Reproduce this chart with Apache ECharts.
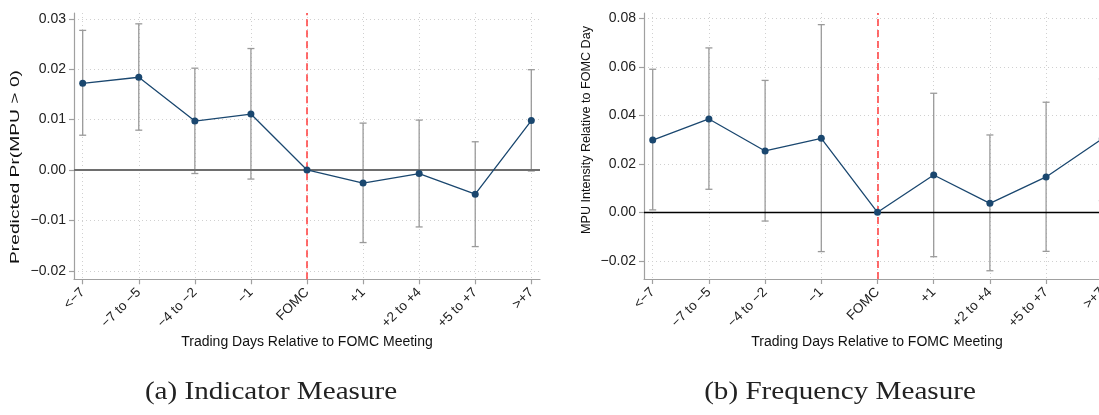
<!DOCTYPE html>
<html>
<head>
<meta charset="utf-8">
<script src="https://cdn.jsdelivr.net/npm/echarts@6/dist/echarts.min.js"></script>
<style>
html,body{margin:0;padding:0;background:#fff;}
#c{width:1099px;height:415px;}
</style>
</head>
<body>
<div id="c"></div>
<script>
const categories = ['<\u22127','\u22127 to \u22125','\u22124 to \u22122','\u22121','FOMC','+1','+2 to +4','+5 to +7','>+7'];
const indEst = [0.0172, 0.0184, 0.0097, 0.0111, 0, -0.0026, -0.0007, -0.0048, 0.0098];
const indLo  = [0.0069, 0.0079, -0.0007, -0.0018, null, -0.0144, -0.0113, -0.0152, -0.0002];
const indHi  = [0.0277, 0.0290, 0.0202, 0.0241, null, 0.0093, 0.0099, 0.0056, 0.0199];
const freqEst = [0.0298, 0.0385, 0.0253, 0.0305, 0, 0.0154, 0.0037, 0.0146, 0.0303];
const freqLo  = [0.0010, 0.0095, -0.0036, -0.0162, null, -0.0183, -0.0241, -0.0161, 0.0048];
const freqHi  = [0.0590, 0.0678, 0.0544, 0.0774, null, 0.0491, 0.0319, 0.0454, 0.0550];
const indTicks = [-0.02, -0.01, 0, 0.01, 0.02, 0.03];
const freqTicks = [-0.02, 0, 0.02, 0.04, 0.06, 0.08];
const xLabel = 'Trading Days Relative to FOMC Meeting';
const indYLabel = 'Predicted Pr(MPU > 0)';
const freqYLabel = 'MPU Intensity Relative to FOMC Day';
const captions = ['(a) Indicator Measure', '(b) Frequency Measure'];

const FONT = '"Liberation Sans", Arial, sans-serif';
const SERIF = '"Liberation Serif", "DejaVu Serif", serif';
const NAVY = '#1a476f';
const catIdx = categories.map((_, i) => i);

function fmtY(v) {
  const s = Math.abs(v).toFixed(2);
  return (v < -1e-9 ? '\u2212' : '') + s;
}

function xAxis(gi) {
  return {
    type: 'value', gridIndex: gi, min: -0.155, max: 8.155,
    axisLine: {show: true, onZero: false, lineStyle: {color: '#a0a0a0', width: 1.2}},
    axisTick: {show: true, length: 5, customValues: catIdx, lineStyle: {color: '#a0a0a0', width: 1.2}},
    axisLabel: {customValues: catIdx, rotate: 45, fontFamily: FONT, fontSize: 13.5, color: '#222', margin: 11,
      formatter: v => categories[Math.round(v)]},
    splitLine: {show: true, lineStyle: {color: '#d0d0d0', type: [1, 3], width: 1}}
  };
}
function yAxis(gi, ticks, min, max) {
  return {
    type: 'value', gridIndex: gi, min: min, max: max,
    axisLine: {show: true, onZero: false, lineStyle: {color: '#a0a0a0', width: 1.2}},
    axisTick: {show: true, length: 5, customValues: ticks, lineStyle: {color: '#a0a0a0', width: 1.2}},
    axisLabel: {customValues: ticks, fontFamily: FONT, fontSize: 14, color: '#222', margin: 8, formatter: fmtY},
    splitLine: {show: true, lineStyle: {color: '#d0d0d0', type: [1, 3], width: 1}}
  };
}

function errRender(params, api) {
  const x = api.value(0), lo = api.value(1), hi = api.value(2);
  const pLo = api.coord([x, lo]), pHi = api.coord([x, hi]);
  const style = {stroke: '#9a9a9a', lineWidth: 1.3};
  const w = 3.5;
  return {type: 'group', children: [
    {type: 'line', shape: {x1: pLo[0], y1: pLo[1], x2: pHi[0], y2: pHi[1]}, style: style},
    {type: 'line', shape: {x1: pLo[0]-w, y1: pLo[1], x2: pLo[0]+w, y2: pLo[1]}, style: style},
    {type: 'line', shape: {x1: pHi[0]-w, y1: pHi[1], x2: pHi[0]+w, y2: pHi[1]}, style: style}
  ]};
}
function errData(lo, hi) {
  const d = [];
  lo.forEach((v, i) => { if (v !== null) d.push([i, v, hi[i]]); });
  return d;
}

function seriesFor(gi, est, lo, hi, zeroColor, zeroWidth) {
  return [
    {type: 'custom', xAxisIndex: gi, yAxisIndex: gi, renderItem: errRender, data: errData(lo, hi),
     encode: {x: 0, y: [1, 2]}, z: 2, silent: true, clip: false},
    {type: 'line', xAxisIndex: gi, yAxisIndex: gi, data: est.map((v, i) => [i, v]),
     symbol: 'circle', symbolSize: 7, showSymbol: true,
     lineStyle: {color: NAVY, width: 1.3}, itemStyle: {color: NAVY}, z: 5, silent: true, animation: false,
     markLine: {silent: true, symbol: 'none', label: {show: false}, animation: false,
       data: [
         {yAxis: 0, lineStyle: {color: zeroColor, width: zeroWidth, type: 'solid'}},
         {xAxis: 4, lineStyle: {color: '#ff3b3b', width: 1.5, type: [7, 4]}}
       ]}}
  ];
}

const chart = echarts.init(document.getElementById('c'), null, {renderer: 'canvas'});
chart.setOption({
  animation: false,
  backgroundColor: '#fff',
  grid: [
    {left: 74, top: 13, width: 466, height: 266.3, outerBoundsMode: 'none', containLabel: false},
    {left: 644, top: 13, width: 467, height: 266, outerBoundsMode: 'none', containLabel: false}
  ],
  xAxis: [xAxis(0), xAxis(1)],
  yAxis: [yAxis(0, indTicks, -0.02169, 0.03115), yAxis(1, freqTicks, -0.0275, 0.0822)],
  series: [].concat(
    seriesFor(0, indEst, indLo, indHi, '#6e6e6e', 2),
    seriesFor(1, freqEst, freqLo, freqHi, '#000000', 1.3)
  ),
  graphic: [
    {type: 'text', x: 307, y: 342, style: {text: xLabel, font: '14px ' + FONT, fill: '#111', align: 'center', verticalAlign: 'middle'}},
    {type: 'text', x: 877, y: 342, style: {text: xLabel, font: '14px ' + FONT, fill: '#111', align: 'center', verticalAlign: 'middle'}},
    {type: 'text', x: 15, y: 167, rotation: Math.PI/2, scaleX: 1.48, style: {text: indYLabel, font: '13px ' + FONT, fill: '#111', align: 'center', verticalAlign: 'middle'}},
    {type: 'text', x: 587, y: 130, rotation: Math.PI/2, style: {text: freqYLabel, font: '12.6px ' + FONT, fill: '#111', align: 'center', verticalAlign: 'middle'}},
    {type: 'text', x: 271, y: 392, scaleX: 1.12, style: {text: captions[0], font: '26px ' + SERIF, fill: '#222', align: 'center', verticalAlign: 'middle'}},
    {type: 'text', x: 840, y: 392, scaleX: 1.12, style: {text: captions[1], font: '26px ' + SERIF, fill: '#222', align: 'center', verticalAlign: 'middle'}}
  ]
});
</script>
</body>
</html>
